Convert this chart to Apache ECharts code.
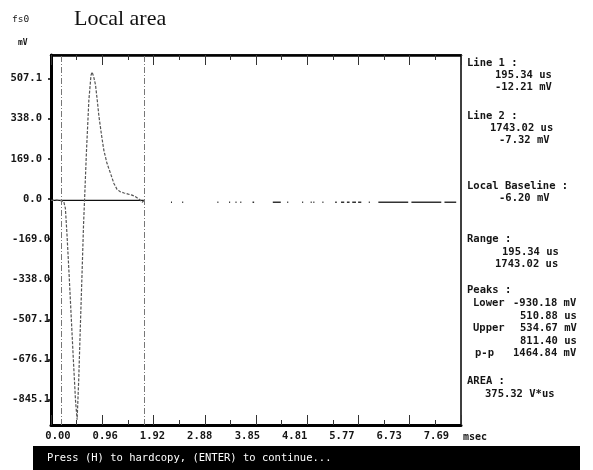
<!DOCTYPE html>
<html><head><meta charset="utf-8">
<script src="https://cdn.jsdelivr.net/npm/echarts@6/dist/echarts.min.js"></script>
<style>html,body{margin:0;padding:0;background:#fff}#c{width:593px;height:470px}</style>
</head><body><div id="c"></div>
<script>
// ---------- data ----------
const waveT = [0, 0.05, 0.10, 0.15, 0.195, 0.24, 0.27, 0.30, 0.34, 0.38, 0.42, 0.46, 0.49, 0.52, 0.55, 0.58, 0.61, 0.63, 0.665, 0.71, 0.75, 0.77, 0.80, 0.835, 0.87, 0.90, 0.95, 0.99, 1.05, 1.12, 1.18, 1.24, 1.30, 1.37, 1.45, 1.52, 1.58, 1.62, 1.67, 1.71, 1.743];
const waveV = [-6, -6, -5, -6, -8, -12, -40, -150, -320, -500, -680, -850, -930, -760, -540, -330, -110, 0, 200, 415, 520, 534, 515, 480, 410, 346, 265, 206, 150, 105, 65, 40, 30, 25, 20, 16, 10, 4, -4, -14, -7];
const tailStart = [2.25, 2.46, 3.12, 3.34, 3.46, 3.55, 3.78, 4.16, 4.43, 4.71, 4.87, 4.92, 5.09, 5.33, 5.44, 5.55, 5.65, 5.76, 5.96, 6.14, 6.76, 7.38];
const tailEnd   = [2.27, 2.48, 3.14, 3.36, 3.48, 3.57, 3.81, 4.31, 4.45, 4.73, 4.89, 4.94, 5.11, 5.36, 5.50, 5.60, 5.72, 5.82, 5.98, 6.70, 7.32, 7.60];
const tailV = -14;
const baselineV = -6.20;
const cursorT = [0.19534, 1.74302];
const xMax = 7.69;
const xTickLabels = ["0.00", "0.96", "1.92", "2.88", "3.85", "4.81", "5.77", "6.73", "7.69"];
const xUnit = "msec";
const yTickLabels = ["507.1", "338.0", "169.0", "0.0", "-169.0", "-338.0", "-507.1", "-676.1", "-845.1"];
const yMin = -952, yMax = 606;
const titleText = "Local area";
const panelText = [
  "Line 1 :", "195.34 us", "-12.21 mV",
  "Line 2 :", "1743.02 us", "-7.32 mV",
  "Local Baseline :", "-6.20 mV",
  "Range :", "195.34 us", "1743.02 us",
  "Peaks :", "Lower", "-930.18 mV", "510.88 us", "Upper", "534.67 mV", "811.40 us", "p-p", "1464.84 mV",
  "AREA :", "375.32 V*us"
];
const footerText = "Press (H) to hardcopy, (ENTER) to continue...";

// ---------- layout ----------
const G = {left: 51, top: 55, right: 461, bottom: 425};
const panelPos = [
  [467, 63], [495, 75], [495, 87],
  [467, 116], [490, 128], [499, 140],
  [467, 186], [499, 198],
  [467, 239], [502, 252], [495, 264],
  [467, 290], [473, 303], [513, 303], [520, 316], [473, 328], [520, 328], [520, 341], [475, 353], [513, 353],
  [467, 381], [485, 394]
];
const MONO = '"DejaVu Sans Mono", "Liberation Mono", monospace';
const INK = '#151515';
const TXT = 'bold 10.5px ' + MONO;

const wave = waveT.map((t, i) => [t, waveV[i]]);
const tail = [];
tailStart.forEach((s, i) => { tail.push([s, tailV], [tailEnd[i], tailV], [(tailEnd[i] + (tailStart[i+1] || xMax)) / 2, '-']); });
const baseline = [[0, baselineV], [cursorT[1], baselineV]];

// label axis: labels sit on a character grid, not exactly on the ticks
const lab0 = 58, labStep = 47.3;
const pxPerUnit = labStep / (xMax / 8);
const labMin = -(lab0 - G.left) / pxPerUnit;
const labMax = (G.right - lab0) / pxPerUnit;

const tickAxisBase = {
  type: 'value', min: 0, max: xMax, interval: xMax / 8,
  axisLine: {show: true, onZero: false, lineStyle: {color: '#000', width: 3}},
  axisTick: {show: true, inside: true, length: 10, lineStyle: {color: '#333', width: 1}},
  minorTick: {show: true, splitNumber: 2, length: 5, lineStyle: {color: '#333', width: 1}},
  axisLabel: {show: false}, splitLine: {show: false}, minorSplitLine: {show: false}
};

const chart = echarts.init(document.getElementById('c'), null, {renderer: 'canvas'});
const texts = panelText.map((t, i) => ({
  type: 'text', x: panelPos[i][0], y: panelPos[i][1],
  style: {text: t, font: TXT, fill: INK, verticalAlign: 'middle', align: 'left'}
}));

chart.setOption({
  animation: false,
  backgroundColor: '#fff',
  grid: {left: G.left, top: G.top, right: 593 - G.right, bottom: 470 - G.bottom, show: true, borderColor: '#000', borderWidth: 1.5, backgroundColor: 'transparent'},
  xAxis: [
    Object.assign({}, tickAxisBase, {position: 'bottom'}),
    Object.assign({}, tickAxisBase, {position: 'top', axisLine: {show: true, onZero: false, lineStyle: {color: '#000', width: 2.5}}}),
    {
      type: 'value', position: 'bottom', min: labMin, max: labMax,
      axisLine: {show: false, onZero: false}, axisTick: {show: false}, splitLine: {show: false},
      axisLabel: {
        show: true, margin: 6, customValues: xTickLabels.map(Number),
        formatter: v => { const k = xTickLabels.map(Number).indexOf(v); return k >= 0 ? xTickLabels[k] : v.toFixed(2); },
        fontFamily: MONO, fontSize: 10.5, fontWeight: 'bold', color: INK, showMinLabel: true, showMaxLabel: true
      }
    }
  ],
  yAxis: {
    type: 'value', min: yMin, max: yMax,
    axisLine: {show: true, onZero: false, lineStyle: {color: '#000', width: 3}},
    axisTick: {show: true, length: 3, customValues: yTickLabels.map(Number), lineStyle: {color: '#000', width: 1.5}},
    splitLine: {show: false},
    axisLabel: {
      show: true, margin: 1, customValues: yTickLabels.map(Number),
      formatter: v => (v < 0 ? '{n|' : '{p|') + v.toFixed(1) + '}',
      rich: {
        p: {fontFamily: MONO, fontSize: 10.5, fontWeight: 'bold', color: INK, padding: [0, 8, 0, 0]},
        n: {fontFamily: MONO, fontSize: 10.5, fontWeight: 'bold', color: INK}
      }
    }
  },
  series: [
    {
      type: 'line', data: baseline, symbol: 'none', silent: true,
      lineStyle: {color: '#111', width: 1.4}, z: 3
    },
    {
      type: 'line', data: wave, symbol: 'none', silent: true,
      lineStyle: {color: '#555', width: 1.2, type: [3, 1.5]}, z: 4,
      markLine: {
        symbol: ['none', 'none'], silent: true, label: {show: false},
        lineStyle: {color: '#777', width: 1, type: [6, 2, 1, 2]},
        data: cursorT.map(t => ({xAxis: t}))
      }
    },
    {
      type: 'line', data: tail, symbol: 'none', silent: true, connectNulls: false,
      lineStyle: {color: '#333', width: 1.6}, z: 4
    }
  ],
  graphic: [
    {type: 'text', x: 74, y: 19.5, style: {text: titleText, font: '22px "Liberation Serif", "DejaVu Serif", serif', fill: '#111', verticalAlign: 'middle'}},
    {type: 'text', x: 12, y: 20, style: {text: 'fs0', font: '9.5px ' + MONO, fill: INK, verticalAlign: 'middle'}},
    {type: 'text', x: 18, y: 43, style: {text: 'mV', font: 'bold 8px ' + MONO, fill: INK, verticalAlign: 'middle'}},
    {type: 'text', x: 463, y: 437, style: {text: xUnit, font: 'bold 10px ' + MONO, fill: INK, verticalAlign: 'middle'}},
    {type: 'rect', shape: {x: 33, y: 446, width: 547, height: 24}, style: {fill: '#000'}},
    {type: 'text', x: 47, y: 458, z: 10, style: {text: footerText, font: '10.5px ' + MONO, fill: '#fff', verticalAlign: 'middle'}}
  ].concat(texts)
});
</script></body></html>
